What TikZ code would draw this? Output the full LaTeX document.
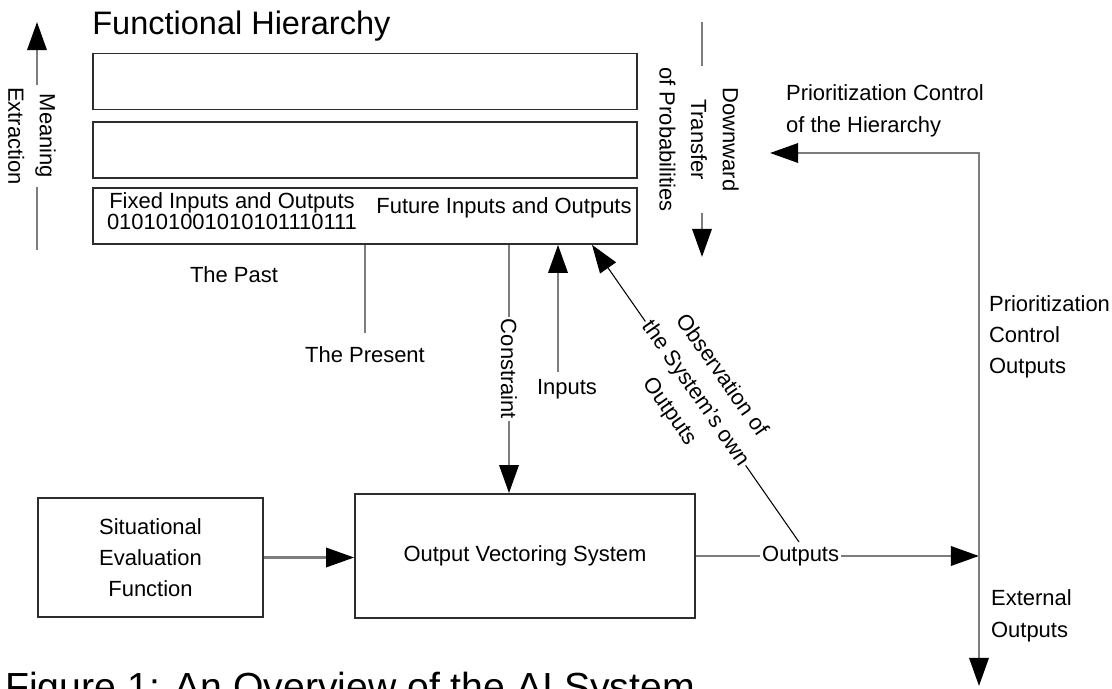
\documentclass[tikz,border=0pt]{standalone}
\usepackage{fontspec}
\setmainfont{Liberation Sans}
\usetikzlibrary{arrows.meta,positioning}
\definecolor{linegray}{RGB}{125,125,125}
\definecolor{boxline}{RGB}{45,45,45}
\tikzset{
  hierbox/.style={draw=boxline,line width=1pt,minimum width=10.88cm,
    minimum height=1.12cm,inner sep=0pt},
  blockbox/.style={draw=boxline,line width=1pt,align=center,
    font=\fontsize{12.5}{17.5}\selectfont},
  lbl/.style={inner sep=1pt,font=\fontsize{12.5}{17.5}\selectfont},
  widelbl/.style={lbl,align=center,font=\fontsize{12.5}{18}\selectfont},
  conn/.style={draw=linegray,line width=1.4pt},
  flowarrow/.style={conn,-{Triangle[length=16pt,width=11pt,color=black]}},
  thinarrow/.style={draw=black,line width=0.6pt,-{Triangle[length=16pt,width=11pt]}},
  online/.style={lbl,fill=white,sloped},
}

\begin{document}
\begin{tikzpicture}[x=0.02cm,y=-0.02cm]
  \useasboundingbox (0,0) rectangle (1112,689);
  % the hierarchy
  \node[anchor=base west,inner sep=0pt,font=\fontsize{18.5}{22}\selectfont] (title) at (92,35) {Functional Hierarchy};
  \node[hierbox] (h1) at (365,81.5) {};
  \node[hierbox,below=0.22cm of h1] (h2) {};
  \node[hierbox,below=0.16cm of h2] (h3) {};
  \node[lbl,align=center,font=\fontsize{12.5}{12}\selectfont] (fixed) at (232,211) {Fixed Inputs and Outputs\\010101001010101110111};
  \node[lbl] (future) at (504,208) {Future Inputs and Outputs};
  \node[lbl] (past) at (234,275) {The Past};
  \node[lbl] (present) at (365,355) {The Present};
  \draw[conn,shorten <=7pt] (present.north) -- (present.north |- h3.south);

  % side arrows
  \coordinate (mefoot) at (37,250);
  \coordinate (metip) at (37,22);
  \draw[flowarrow] (mefoot) -- node[widelbl,fill=white,xshift=-1mm,rotate=-90] {Meaning\\Extraction} (metip);
  \coordinate (dtop) at (702,22);
  \coordinate (dtip) at (702,257);
  \draw[flowarrow] (dtop) -- node[widelbl,fill=white,xshift=-0.6mm,rotate=-90] {Downward\\Transfer\\of Probabilities} (dtip);

  % lower blocks
  \node[blockbox,minimum width=4.5cm,minimum height=2.38cm] (sef) at (150.5,557.5) {Situational\\Evaluation\\Function};
  \node[blockbox,minimum width=6.8cm,minimum height=2.48cm] (ovs) at (525,556) {Output Vectoring System};
  \draw[flowarrow] (sef.east) -- (sef.east -| ovs.west);

  \coordinate (cx) at (509,0);
  \draw[flowarrow] (h3.south -| cx) -- node[online] {Constraint} (ovs.north -| cx);
  \node[lbl] (inputs) at (567,389) {Inputs};
  \coordinate (inpfoot) at (558,372);
  \draw[flowarrow] (inpfoot) -- (inpfoot |- h3.south);
  \coordinate (obsfoot) at (799,542);
  \coordinate (ox) at (592,0);
  \draw[thinarrow] (obsfoot) -- node[online,widelbl] {Observation of\\the System's own\\Outputs} (h3.south -| ox);

  % outputs and control
  \coordinate (junc) at (979,557);
  \coordinate (prioend) at (770,153);
  \coordinate (extend) at (979,686);
  \draw[flowarrow] (ovs.east) -- node[online,pos=0.37] {Outputs} (ovs.east -| junc);
  \draw[flowarrow] (junc) |- (prioend);
  \draw[flowarrow] (junc) -- (extend);
  \node[lbl,anchor=west,align=left,font=\fontsize{12.5}{18}\selectfont] (prioh) at (784,111) {Prioritization Control\\of the Hierarchy};
  \node[lbl,anchor=west,align=left] (prioout) at (987,337) {Prioritization\\Control\\Outputs};
  \node[lbl,anchor=west,align=left,font=\fontsize{12.5}{18}\selectfont] (external) at (989,616) {External\\Outputs};

  \node[anchor=base west,inner sep=0pt,font=\fontsize{22.3}{26}\selectfont] (caption) at (5,700) {Figure 1: An Overview of the AI System};
\end{tikzpicture}
\end{document}
